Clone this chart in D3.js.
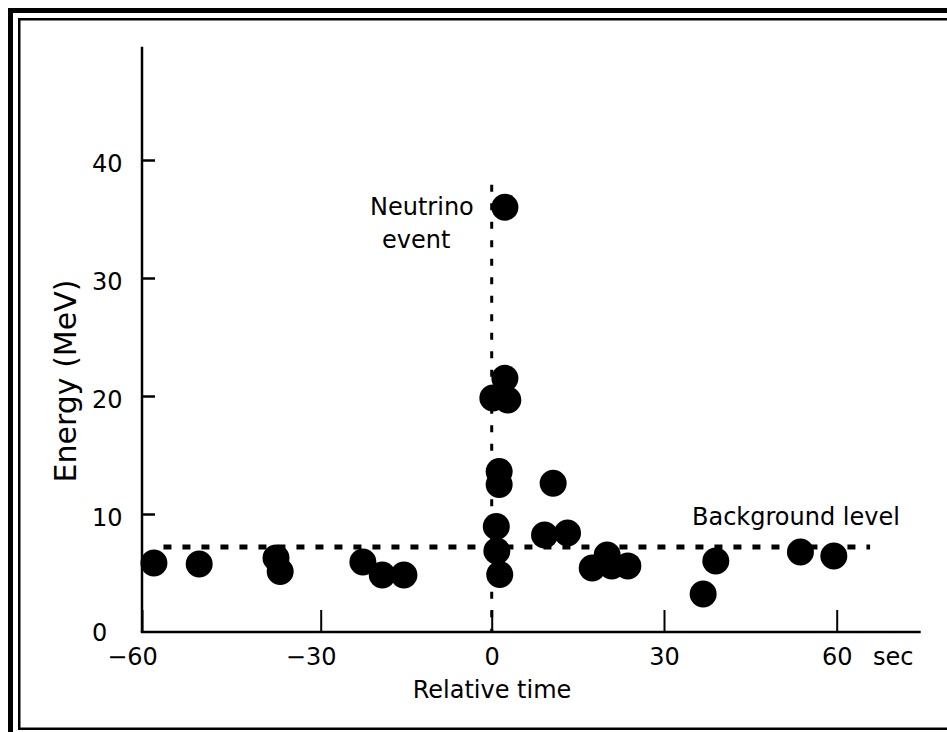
<!DOCTYPE html>
<html>
<head>
<meta charset="utf-8">
<script src="https://cdn.jsdelivr.net/npm/d3@7/dist/d3.min.js"></script>
<style>
  html, body { margin: 0; padding: 0; background: #fff; overflow: hidden; }
  svg { display: block; font-family: "DejaVu Sans", sans-serif; }
</style>
</head>
<body>
<svg id="chart" width="947" height="732"></svg>
<script>
// ---- data ----
const times    = [-58.0, -50.4, -37.5, -36.8, -22.6, -19.2, -15.4, 0.2, 2.3, 2.8, 1.3, 1.3, 10.7, 0.8, 0.9, 1.4, 9.2, 13.2, 17.5, 20.1, 20.9, 23.7, 36.8, 39.0, 53.7, 59.5, 2.3];
const energies = [5.85, 5.76, 6.27, 5.13, 5.93, 4.83, 4.83, 19.83, 21.5, 19.66, 13.6, 12.5, 12.6, 8.94, 6.86, 4.87, 8.22, 8.39, 5.42, 6.53, 5.6, 5.6, 3.22, 6.02, 6.78, 6.44, 36.0];

const xTickValues = [-60, -30, 0, 30, 60];
const xTickLabels = ["\u221260", "\u221230", "0", "30", "60"];
const yTickValues = [0, 10, 20, 30, 40];
const yTickLabels = ["0", "10", "20", "30", "40"];

const backgroundLevel = 7.2;          // MeV
const backgroundSpan  = [-56.4, 65.8]; // seconds
const eventTime = 0;
const eventLineTop = 37.9;            // MeV
const xAxisEnd = 74.6;                // seconds
const xAxisStart = -60;
const yAxisTop = 49.6;                // MeV

// ---- layout ----
const svg = d3.select("#chart");

// frame (double border)
svg.append("rect").attr("x", 10.5).attr("y", 10.5).attr("width", 1000).attr("height", 1000)
  .attr("fill", "none").attr("stroke", "#000").attr("stroke-width", 5);
svg.append("rect").attr("x", 19.25).attr("y", 19.25).attr("width", 1000).attr("height", 709.5)
  .attr("fill", "none").attr("stroke", "#000").attr("stroke-width", 2.5);

const x = d3.scaleLinear().domain([-60, -30, 0, 30, 60]).range([142, 320.7, 491.7, 664, 836.7]);
const y = d3.scaleLinear().domain([0, 40]).range([632, 160]);

const g = svg.append("g");

// dashed reference lines
g.append("line")
  .attr("x1", x(eventTime)).attr("x2", x(eventTime))
  .attr("y1", y(eventLineTop)).attr("y2", y(0))
  .attr("stroke", "#000").attr("stroke-width", 3).attr("stroke-dasharray", "7 11.5");

g.append("line")
  .attr("x1", x(backgroundSpan[0])).attr("x2", x(backgroundSpan[1]))
  .attr("y1", y(backgroundLevel)).attr("y2", y(backgroundLevel))
  .attr("stroke", "#000").attr("stroke-width", 5).attr("stroke-dasharray", "8 11");

// axis lines
g.append("line").attr("x1", x(xAxisStart)).attr("x2", x(xAxisStart))
  .attr("y1", y(yAxisTop)).attr("y2", y(0)).attr("stroke", "#000").attr("stroke-width", 2.5);
g.append("line").attr("x1", x(xAxisStart) - 1.25).attr("x2", x(xAxisEnd))
  .attr("y1", y(0)).attr("y2", y(0)).attr("stroke", "#000").attr("stroke-width", 2.5);

// x axis ticks + labels
const xAxis = d3.axisBottom(x).tickValues(xTickValues)
  .tickFormat((d, i) => xTickLabels[i]).tickSize(-22).tickSizeOuter(0).tickPadding(16);
const gx = g.append("g").attr("transform", `translate(0,${y(0)})`).call(xAxis);
gx.select(".domain").remove();
gx.selectAll(".tick line").attr("stroke", "#000").attr("stroke-width", 2);
gx.selectAll(".tick text").attr("fill", "#000").attr("font-size", 24)
  .attr("font-family", "DejaVu Sans, sans-serif")
  .attr("dx", d => d < 0 ? -10 : 0);

// y axis ticks + labels
const yAxis = d3.axisLeft(y).tickValues(yTickValues)
  .tickFormat((d, i) => yTickLabels[i]).tickSize(-13).tickSizeOuter(0);
const gy = g.append("g").attr("transform", `translate(${x(xAxisStart)},0)`).call(yAxis);
gy.select(".domain").remove();
gy.selectAll(".tick line").attr("stroke", "#000").attr("stroke-width", 2.5)
  .attr("display", d => d === 0 ? "none" : null);
gy.selectAll(".tick text").attr("fill", "#000").attr("font-size", 24)
  .attr("font-family", "DejaVu Sans, sans-serif")
  .attr("text-anchor", "start").attr("x", -50)
  .attr("dy", d => d === 0 ? 8 : 11.5);

// data points
g.append("g").selectAll("circle")
  .data(times.map((t, i) => ({t, e: energies[i]})))
  .join("circle")
  .attr("cx", d => x(d.t)).attr("cy", d => y(d.e)).attr("r", 13.5)
  .attr("fill", "#000");

// text annotations
const txt = (s, px, py, size, anchor) => g.append("text").text(s)
  .attr("x", px).attr("y", py).attr("font-size", size)
  .attr("text-anchor", anchor || "start").attr("fill", "#000");

txt("Neutrino", 370, 215, 24);
txt("event", 382, 248, 24);
txt("Background level", 692, 525, 24);
txt("sec", 873, 665, 24);
txt("Relative time", 492, 698, 24, "middle");

g.append("text").text("Energy (MeV)")
  .attr("transform", "translate(76,381) rotate(-90)")
  .attr("text-anchor", "middle").attr("font-size", 30).attr("fill", "#000");
</script>
</body>
</html>
